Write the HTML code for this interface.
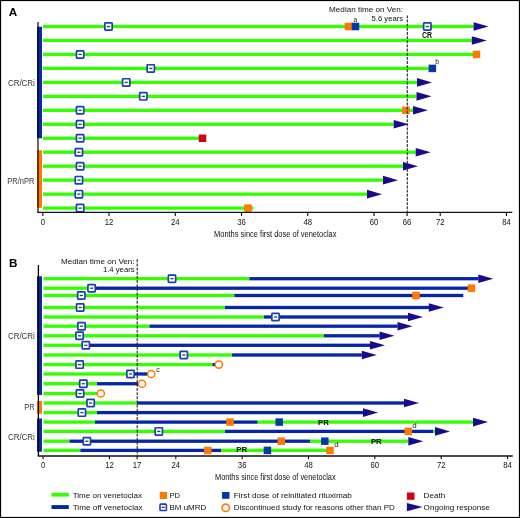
<!DOCTYPE html>
<html><head><meta charset="utf-8"><title>Swimmer plot</title>
<style>
html,body{margin:0;padding:0;background:#fff;}
body{width:520px;height:518px;overflow:hidden;}
svg{display:block;will-change:transform;font-family:"Liberation Sans", sans-serif;}
</style></head><body>
<svg width="520" height="518" viewBox="0 0 520 518">
<rect x="0" y="0" width="520" height="518" fill="#fff"/>
<rect x="37.00" y="26.70" width="5.00" height="111.60" fill="#0c29a6" />
<rect x="37.00" y="150.30" width="5.00" height="57.50" fill="#ff7a00" />
<rect x="43.00" y="24.85" width="430.60" height="3.30" fill="#33ff00" />
<rect x="43.00" y="38.82" width="428.80" height="3.30" fill="#33ff00" />
<rect x="43.00" y="52.79" width="430.00" height="3.30" fill="#33ff00" />
<rect x="43.00" y="66.76" width="385.70" height="3.30" fill="#33ff00" />
<rect x="43.00" y="80.73" width="374.00" height="3.30" fill="#33ff00" />
<rect x="43.00" y="94.70" width="373.50" height="3.30" fill="#33ff00" />
<rect x="43.00" y="108.67" width="370.00" height="3.30" fill="#33ff00" />
<rect x="43.00" y="122.64" width="350.70" height="3.30" fill="#33ff00" />
<rect x="43.00" y="136.61" width="156.00" height="3.30" fill="#33ff00" />
<rect x="43.00" y="150.58" width="372.70" height="3.30" fill="#33ff00" />
<rect x="43.00" y="164.55" width="360.00" height="3.30" fill="#33ff00" />
<rect x="43.00" y="178.52" width="340.00" height="3.30" fill="#33ff00" />
<rect x="43.00" y="192.49" width="324.00" height="3.30" fill="#33ff00" />
<rect x="43.00" y="206.46" width="210.40" height="3.30" fill="#33ff00" />
<polygon points="473.60,22.20 488.60,26.50 473.60,30.80" fill="#1a0a8c"/>
<polygon points="471.80,36.17 486.80,40.47 471.80,44.77" fill="#1a0a8c"/>
<polygon points="417.00,78.08 432.00,82.38 417.00,86.68" fill="#1a0a8c"/>
<polygon points="416.50,92.05 431.50,96.35 416.50,100.65" fill="#1a0a8c"/>
<polygon points="413.00,106.02 428.00,110.32 413.00,114.62" fill="#1a0a8c"/>
<polygon points="393.70,119.99 408.70,124.29 393.70,128.59" fill="#1a0a8c"/>
<polygon points="415.70,147.93 430.70,152.23 415.70,156.53" fill="#1a0a8c"/>
<polygon points="403.00,161.90 418.00,166.20 403.00,170.50" fill="#1a0a8c"/>
<polygon points="383.00,175.87 398.00,180.17 383.00,184.47" fill="#1a0a8c"/>
<polygon points="367.00,189.84 382.00,194.14 367.00,198.44" fill="#1a0a8c"/>
<rect x="344.65" y="22.75" width="7.50" height="7.50" fill="#ff7800" />
<rect x="472.75" y="50.69" width="7.50" height="7.50" fill="#ff7800" />
<rect x="402.15" y="106.57" width="7.50" height="7.50" fill="#ff7800" />
<rect x="244.25" y="204.36" width="7.50" height="7.50" fill="#ff7800" />
<rect x="351.75" y="22.75" width="7.50" height="7.50" fill="#0836aa" />
<rect x="428.55" y="64.66" width="7.50" height="7.50" fill="#0836aa" />
<rect x="198.75" y="134.51" width="7.50" height="7.50" fill="#d00016" />
<rect x="104.85" y="22.85" width="7.30" height="7.30" rx="0.6" fill="#fff" stroke="#1c40ad" stroke-width="1.7"/>
<rect x="106.90" y="25.90" width="3.20" height="1.20" fill="#12309a" />
<rect x="423.65" y="22.85" width="7.30" height="7.30" rx="0.6" fill="#fff" stroke="#1c40ad" stroke-width="1.7"/>
<rect x="425.70" y="25.90" width="3.20" height="1.20" fill="#12309a" />
<rect x="76.45" y="50.79" width="7.30" height="7.30" rx="0.6" fill="#fff" stroke="#1c40ad" stroke-width="1.7"/>
<rect x="78.50" y="53.84" width="3.20" height="1.20" fill="#12309a" />
<rect x="147.15" y="64.76" width="7.30" height="7.30" rx="0.6" fill="#fff" stroke="#1c40ad" stroke-width="1.7"/>
<rect x="149.20" y="67.81" width="3.20" height="1.20" fill="#12309a" />
<rect x="122.55" y="78.73" width="7.30" height="7.30" rx="0.6" fill="#fff" stroke="#1c40ad" stroke-width="1.7"/>
<rect x="124.60" y="81.78" width="3.20" height="1.20" fill="#12309a" />
<rect x="139.65" y="92.70" width="7.30" height="7.30" rx="0.6" fill="#fff" stroke="#1c40ad" stroke-width="1.7"/>
<rect x="141.70" y="95.75" width="3.20" height="1.20" fill="#12309a" />
<rect x="76.45" y="106.67" width="7.30" height="7.30" rx="0.6" fill="#fff" stroke="#1c40ad" stroke-width="1.7"/>
<rect x="78.50" y="109.72" width="3.20" height="1.20" fill="#12309a" />
<rect x="76.45" y="120.64" width="7.30" height="7.30" rx="0.6" fill="#fff" stroke="#1c40ad" stroke-width="1.7"/>
<rect x="78.50" y="123.69" width="3.20" height="1.20" fill="#12309a" />
<rect x="76.45" y="134.61" width="7.30" height="7.30" rx="0.6" fill="#fff" stroke="#1c40ad" stroke-width="1.7"/>
<rect x="78.50" y="137.66" width="3.20" height="1.20" fill="#12309a" />
<rect x="75.25" y="148.58" width="7.30" height="7.30" rx="0.6" fill="#fff" stroke="#1c40ad" stroke-width="1.7"/>
<rect x="77.30" y="151.63" width="3.20" height="1.20" fill="#12309a" />
<rect x="76.45" y="162.55" width="7.30" height="7.30" rx="0.6" fill="#fff" stroke="#1c40ad" stroke-width="1.7"/>
<rect x="78.50" y="165.60" width="3.20" height="1.20" fill="#12309a" />
<rect x="75.25" y="176.52" width="7.30" height="7.30" rx="0.6" fill="#fff" stroke="#1c40ad" stroke-width="1.7"/>
<rect x="77.30" y="179.57" width="3.20" height="1.20" fill="#12309a" />
<rect x="75.25" y="190.49" width="7.30" height="7.30" rx="0.6" fill="#fff" stroke="#1c40ad" stroke-width="1.7"/>
<rect x="77.30" y="193.54" width="3.20" height="1.20" fill="#12309a" />
<rect x="76.45" y="204.46" width="7.30" height="7.30" rx="0.6" fill="#fff" stroke="#1c40ad" stroke-width="1.7"/>
<rect x="78.50" y="207.51" width="3.20" height="1.20" fill="#12309a" />
<text x="355.40" y="21.60" font-size="6.5" text-anchor="middle" font-weight="normal" fill="#111" >a</text>
<text x="437.10" y="63.90" font-size="7.0" text-anchor="middle" font-weight="normal" fill="#111" >b</text>
<text x="427.10" y="38.10" font-size="8.4" text-anchor="middle" font-weight="bold" fill="#111" textLength="10.2" lengthAdjust="spacingAndGlyphs" >CR</text>
<line x1="407.3" y1="15.4" x2="407.3" y2="212" stroke="#222" stroke-width="1.1" stroke-dasharray="2.9,1.25"/>
<text x="403.10" y="12.40" font-size="7.8" text-anchor="end" font-weight="normal" fill="#111" textLength="74" lengthAdjust="spacingAndGlyphs" >Median time on Ven:</text>
<text x="403.10" y="20.80" font-size="7.8" text-anchor="end" font-weight="normal" fill="#111" textLength="31.6" lengthAdjust="spacingAndGlyphs" >5.6 years</text>
<line x1="38" y1="22" x2="38" y2="212.3" stroke="#000" stroke-opacity="0.65" stroke-width="1.8"/>
<line x1="37.1" y1="212.4" x2="512.3" y2="212.4" stroke="#111" stroke-width="1.3"/>
<line x1="42.80" y1="212.4" x2="42.80" y2="216.0" stroke="#111" stroke-width="1.15"/>
<text x="42.80" y="224.90" font-size="8.3" text-anchor="middle" font-weight="normal" fill="#111" textLength="4.3" lengthAdjust="spacingAndGlyphs" >0</text>
<line x1="109.04" y1="212.4" x2="109.04" y2="216.0" stroke="#111" stroke-width="1.15"/>
<text x="109.04" y="224.90" font-size="8.3" text-anchor="middle" font-weight="normal" fill="#111" textLength="8.6" lengthAdjust="spacingAndGlyphs" >12</text>
<line x1="175.28" y1="212.4" x2="175.28" y2="216.0" stroke="#111" stroke-width="1.15"/>
<text x="175.28" y="224.90" font-size="8.3" text-anchor="middle" font-weight="normal" fill="#111" textLength="8.6" lengthAdjust="spacingAndGlyphs" >24</text>
<line x1="241.52" y1="212.4" x2="241.52" y2="216.0" stroke="#111" stroke-width="1.15"/>
<text x="241.52" y="224.90" font-size="8.3" text-anchor="middle" font-weight="normal" fill="#111" textLength="8.6" lengthAdjust="spacingAndGlyphs" >36</text>
<line x1="307.76" y1="212.4" x2="307.76" y2="216.0" stroke="#111" stroke-width="1.15"/>
<text x="307.76" y="224.90" font-size="8.3" text-anchor="middle" font-weight="normal" fill="#111" textLength="8.6" lengthAdjust="spacingAndGlyphs" >48</text>
<line x1="374.00" y1="212.4" x2="374.00" y2="216.0" stroke="#111" stroke-width="1.15"/>
<text x="374.00" y="224.90" font-size="8.3" text-anchor="middle" font-weight="normal" fill="#111" textLength="8.6" lengthAdjust="spacingAndGlyphs" >60</text>
<line x1="407.12" y1="212.4" x2="407.12" y2="216.0" stroke="#111" stroke-width="1.15"/>
<text x="407.12" y="224.90" font-size="8.3" text-anchor="middle" font-weight="normal" fill="#111" textLength="8.6" lengthAdjust="spacingAndGlyphs" >66</text>
<line x1="440.24" y1="212.4" x2="440.24" y2="216.0" stroke="#111" stroke-width="1.15"/>
<text x="440.24" y="224.90" font-size="8.3" text-anchor="middle" font-weight="normal" fill="#111" textLength="8.6" lengthAdjust="spacingAndGlyphs" >72</text>
<line x1="506.48" y1="212.4" x2="506.48" y2="216.0" stroke="#111" stroke-width="1.15"/>
<text x="506.48" y="224.90" font-size="8.3" text-anchor="middle" font-weight="normal" fill="#111" textLength="8.6" lengthAdjust="spacingAndGlyphs" >84</text>
<text x="214.00" y="236.70" font-size="9.3" text-anchor="start" font-weight="normal" fill="#111" textLength="122.5" lengthAdjust="spacingAndGlyphs" >Months since first dose of venetoclax</text>
<text x="8.70" y="15.70" font-size="11.7" text-anchor="start" font-weight="bold" fill="#000" >A</text>
<text x="34.90" y="86.40" font-size="8.6" text-anchor="end" font-weight="normal" fill="#333" textLength="27.0" lengthAdjust="spacingAndGlyphs" >CR/CRi</text>
<text x="34.30" y="184.00" font-size="8.6" text-anchor="end" font-weight="normal" fill="#333" textLength="27.0" lengthAdjust="spacingAndGlyphs" >PR/nPR</text>
<rect x="37.00" y="276.30" width="5.00" height="118.70" fill="#0c29a6" />
<rect x="37.00" y="401.00" width="5.00" height="12.70" fill="#ff7a00" />
<rect x="37.00" y="418.50" width="5.00" height="33.20" fill="#0c29a6" />
<rect x="43.50" y="277.05" width="205.80" height="3.30" fill="#33ff00" />
<rect x="249.30" y="277.05" width="229.20" height="3.30" fill="#0626a6" />
<rect x="43.50" y="286.55" width="46.50" height="3.30" fill="#33ff00" />
<rect x="90.00" y="286.55" width="378.00" height="3.30" fill="#0626a6" />
<rect x="43.50" y="293.85" width="190.80" height="3.30" fill="#33ff00" />
<rect x="234.30" y="293.85" width="229.00" height="3.30" fill="#0626a6" />
<rect x="43.50" y="305.85" width="181.50" height="3.30" fill="#33ff00" />
<rect x="225.00" y="305.85" width="204.00" height="3.30" fill="#0626a6" />
<rect x="43.50" y="315.35" width="220.50" height="3.30" fill="#33ff00" />
<rect x="264.00" y="315.35" width="144.20" height="3.30" fill="#0626a6" />
<rect x="43.50" y="324.55" width="106.00" height="3.30" fill="#33ff00" />
<rect x="149.50" y="324.55" width="248.10" height="3.30" fill="#0626a6" />
<rect x="43.50" y="334.15" width="280.30" height="3.30" fill="#33ff00" />
<rect x="323.80" y="334.15" width="55.80" height="3.30" fill="#0626a6" />
<rect x="43.50" y="343.65" width="42.50" height="3.30" fill="#33ff00" />
<rect x="86.00" y="343.65" width="284.20" height="3.30" fill="#0626a6" />
<rect x="43.50" y="353.35" width="188.50" height="3.30" fill="#33ff00" />
<rect x="232.00" y="353.35" width="129.80" height="3.30" fill="#0626a6" />
<rect x="43.50" y="362.95" width="169.00" height="3.30" fill="#33ff00" />
<rect x="212.50" y="362.95" width="3.50" height="3.30" fill="#0626a6" />
<rect x="43.50" y="372.35" width="86.50" height="3.30" fill="#33ff00" />
<rect x="130.00" y="372.35" width="18.00" height="3.30" fill="#0626a6" />
<rect x="43.50" y="382.10" width="53.50" height="3.30" fill="#33ff00" />
<rect x="97.00" y="382.10" width="42.00" height="3.30" fill="#0626a6" />
<rect x="43.50" y="391.85" width="54.00" height="3.30" fill="#33ff00" />
<rect x="43.50" y="401.35" width="93.50" height="3.30" fill="#33ff00" />
<rect x="137.00" y="401.35" width="267.20" height="3.30" fill="#0626a6" />
<rect x="43.50" y="410.95" width="53.50" height="3.30" fill="#33ff00" />
<rect x="97.00" y="410.95" width="266.00" height="3.30" fill="#0626a6" />
<rect x="43.50" y="420.45" width="51.50" height="3.30" fill="#33ff00" />
<rect x="95.00" y="420.45" width="162.70" height="3.30" fill="#0626a6" />
<rect x="257.70" y="420.45" width="215.30" height="3.30" fill="#33ff00" />
<rect x="43.50" y="429.75" width="181.50" height="3.30" fill="#33ff00" />
<rect x="225.00" y="429.75" width="208.30" height="3.30" fill="#0626a6" />
<rect x="433.30" y="429.75" width="1.90" height="3.30" fill="#33ff00" />
<rect x="43.50" y="439.55" width="26.00" height="3.30" fill="#33ff00" />
<rect x="69.50" y="439.55" width="240.50" height="3.30" fill="#0626a6" />
<rect x="310.00" y="439.55" width="98.30" height="3.30" fill="#33ff00" />
<rect x="43.50" y="448.75" width="36.90" height="3.30" fill="#33ff00" />
<rect x="80.40" y="448.75" width="141.00" height="3.30" fill="#0626a6" />
<rect x="221.40" y="448.75" width="108.60" height="3.30" fill="#33ff00" />
<polygon points="478.30,274.40 493.30,278.70 478.30,283.00" fill="#1a0a8c"/>
<polygon points="428.80,303.20 443.80,307.50 428.80,311.80" fill="#1a0a8c"/>
<polygon points="408.00,312.70 423.00,317.00 408.00,321.30" fill="#1a0a8c"/>
<polygon points="397.50,321.90 412.50,326.20 397.50,330.50" fill="#1a0a8c"/>
<polygon points="379.50,331.50 394.50,335.80 379.50,340.10" fill="#1a0a8c"/>
<polygon points="370.00,341.00 385.00,345.30 370.00,349.60" fill="#1a0a8c"/>
<polygon points="361.80,350.70 376.80,355.00 361.80,359.30" fill="#1a0a8c"/>
<polygon points="404.00,398.70 419.00,403.00 404.00,407.30" fill="#1a0a8c"/>
<polygon points="363.00,408.30 378.00,412.60 363.00,416.90" fill="#1a0a8c"/>
<polygon points="473.00,417.80 488.00,422.10 473.00,426.40" fill="#1a0a8c"/>
<polygon points="435.00,427.10 450.00,431.40 435.00,435.70" fill="#1a0a8c"/>
<polygon points="408.30,436.90 423.30,441.20 408.30,445.50" fill="#1a0a8c"/>
<rect x="467.65" y="284.45" width="7.50" height="7.50" fill="#ff7800" />
<rect x="412.25" y="291.75" width="7.50" height="7.50" fill="#ff7800" />
<rect x="226.25" y="418.35" width="7.50" height="7.50" fill="#ff7800" />
<rect x="404.55" y="427.65" width="7.50" height="7.50" fill="#ff7800" />
<rect x="277.55" y="437.45" width="7.50" height="7.50" fill="#ff7800" />
<rect x="204.05" y="446.65" width="7.50" height="7.50" fill="#ff7800" />
<rect x="326.25" y="446.65" width="7.50" height="7.50" fill="#ff7800" />
<rect x="275.45" y="418.35" width="7.50" height="7.50" fill="#0836aa" />
<rect x="321.05" y="437.45" width="7.50" height="7.50" fill="#0836aa" />
<rect x="263.65" y="446.65" width="7.50" height="7.50" fill="#0836aa" />
<circle cx="218.80" cy="364.60" r="3.6" fill="#fff" stroke="#ff7a00" stroke-width="1.5"/>
<circle cx="151.20" cy="374.00" r="3.6" fill="#fff" stroke="#ff7a00" stroke-width="1.5"/>
<circle cx="142.00" cy="383.75" r="3.6" fill="#fff" stroke="#ff7a00" stroke-width="1.5"/>
<circle cx="100.80" cy="393.50" r="3.6" fill="#fff" stroke="#ff7a00" stroke-width="1.5"/>
<rect x="168.35" y="275.05" width="7.30" height="7.30" rx="0.6" fill="#fff" stroke="#1c40ad" stroke-width="1.7"/>
<rect x="170.40" y="278.10" width="3.20" height="1.20" fill="#12309a" />
<rect x="87.95" y="284.55" width="7.30" height="7.30" rx="0.6" fill="#fff" stroke="#1c40ad" stroke-width="1.7"/>
<rect x="90.00" y="287.60" width="3.20" height="1.20" fill="#12309a" />
<rect x="77.65" y="291.85" width="7.30" height="7.30" rx="0.6" fill="#fff" stroke="#1c40ad" stroke-width="1.7"/>
<rect x="79.70" y="294.90" width="3.20" height="1.20" fill="#12309a" />
<rect x="76.55" y="303.85" width="7.30" height="7.30" rx="0.6" fill="#fff" stroke="#1c40ad" stroke-width="1.7"/>
<rect x="78.60" y="306.90" width="3.20" height="1.20" fill="#12309a" />
<rect x="271.85" y="313.35" width="7.30" height="7.30" rx="0.6" fill="#fff" stroke="#1c40ad" stroke-width="1.7"/>
<rect x="273.90" y="316.40" width="3.20" height="1.20" fill="#12309a" />
<rect x="77.85" y="322.55" width="7.30" height="7.30" rx="0.6" fill="#fff" stroke="#1c40ad" stroke-width="1.7"/>
<rect x="79.90" y="325.60" width="3.20" height="1.20" fill="#12309a" />
<rect x="75.95" y="332.15" width="7.30" height="7.30" rx="0.6" fill="#fff" stroke="#1c40ad" stroke-width="1.7"/>
<rect x="78.00" y="335.20" width="3.20" height="1.20" fill="#12309a" />
<rect x="82.15" y="341.65" width="7.30" height="7.30" rx="0.6" fill="#fff" stroke="#1c40ad" stroke-width="1.7"/>
<rect x="84.20" y="344.70" width="3.20" height="1.20" fill="#12309a" />
<rect x="180.15" y="351.35" width="7.30" height="7.30" rx="0.6" fill="#fff" stroke="#1c40ad" stroke-width="1.7"/>
<rect x="182.20" y="354.40" width="3.20" height="1.20" fill="#12309a" />
<rect x="75.95" y="360.95" width="7.30" height="7.30" rx="0.6" fill="#fff" stroke="#1c40ad" stroke-width="1.7"/>
<rect x="78.00" y="364.00" width="3.20" height="1.20" fill="#12309a" />
<rect x="126.85" y="370.35" width="7.30" height="7.30" rx="0.6" fill="#fff" stroke="#1c40ad" stroke-width="1.7"/>
<rect x="128.90" y="373.40" width="3.20" height="1.20" fill="#12309a" />
<rect x="79.65" y="380.10" width="7.30" height="7.30" rx="0.6" fill="#fff" stroke="#1c40ad" stroke-width="1.7"/>
<rect x="81.70" y="383.15" width="3.20" height="1.20" fill="#12309a" />
<rect x="76.35" y="389.85" width="7.30" height="7.30" rx="0.6" fill="#fff" stroke="#1c40ad" stroke-width="1.7"/>
<rect x="78.40" y="392.90" width="3.20" height="1.20" fill="#12309a" />
<rect x="86.95" y="399.35" width="7.30" height="7.30" rx="0.6" fill="#fff" stroke="#1c40ad" stroke-width="1.7"/>
<rect x="89.00" y="402.40" width="3.20" height="1.20" fill="#12309a" />
<rect x="78.25" y="408.95" width="7.30" height="7.30" rx="0.6" fill="#fff" stroke="#1c40ad" stroke-width="1.7"/>
<rect x="80.30" y="412.00" width="3.20" height="1.20" fill="#12309a" />
<rect x="155.15" y="427.75" width="7.30" height="7.30" rx="0.6" fill="#fff" stroke="#1c40ad" stroke-width="1.7"/>
<rect x="157.20" y="430.80" width="3.20" height="1.20" fill="#12309a" />
<rect x="83.25" y="437.55" width="7.30" height="7.30" rx="0.6" fill="#fff" stroke="#1c40ad" stroke-width="1.7"/>
<rect x="85.30" y="440.60" width="3.20" height="1.20" fill="#12309a" />
<text x="158.00" y="371.80" font-size="7.0" text-anchor="middle" font-weight="normal" fill="#111" >c</text>
<text x="414.60" y="427.50" font-size="8.0" text-anchor="middle" font-weight="normal" fill="#111" >d</text>
<text x="336.40" y="447.10" font-size="8.0" text-anchor="middle" font-weight="normal" fill="#111" >d</text>
<text x="323.40" y="425.00" font-size="7.8" text-anchor="middle" font-weight="bold" fill="#000" >PR</text>
<text x="376.30" y="443.80" font-size="7.8" text-anchor="middle" font-weight="bold" fill="#000" >PR</text>
<text x="241.70" y="452.30" font-size="7.8" text-anchor="middle" font-weight="bold" fill="#000" >PR</text>
<line x1="137.2" y1="258" x2="137.2" y2="455.5" stroke="#222" stroke-width="1.1" stroke-dasharray="2.9,1.25" stroke-dashoffset="2.8"/>
<text x="134.60" y="263.80" font-size="7.8" text-anchor="end" font-weight="normal" fill="#111" textLength="73.6" lengthAdjust="spacingAndGlyphs" >Median time on Ven:</text>
<text x="134.60" y="272.20" font-size="7.8" text-anchor="end" font-weight="normal" fill="#111" textLength="31.7" lengthAdjust="spacingAndGlyphs" >1.4 years</text>
<line x1="38.4" y1="265" x2="38.4" y2="456" stroke="#000" stroke-width="1.3"/>
<line x1="37.8" y1="456" x2="512.8" y2="456" stroke="#111" stroke-width="1.4"/>
<line x1="43.10" y1="456" x2="43.10" y2="459.2" stroke="#111" stroke-width="1.1"/>
<text x="43.10" y="467.90" font-size="8.3" text-anchor="middle" font-weight="normal" fill="#111" textLength="4.3" lengthAdjust="spacingAndGlyphs" >0</text>
<line x1="109.45" y1="456" x2="109.45" y2="459.2" stroke="#111" stroke-width="1.1"/>
<text x="109.45" y="467.90" font-size="8.3" text-anchor="middle" font-weight="normal" fill="#111" textLength="8.6" lengthAdjust="spacingAndGlyphs" >12</text>
<line x1="137.09" y1="456" x2="137.09" y2="459.2" stroke="#111" stroke-width="1.1"/>
<text x="137.09" y="467.90" font-size="8.3" text-anchor="middle" font-weight="normal" fill="#111" textLength="8.6" lengthAdjust="spacingAndGlyphs" >17</text>
<line x1="175.80" y1="456" x2="175.80" y2="459.2" stroke="#111" stroke-width="1.1"/>
<text x="175.80" y="467.90" font-size="8.3" text-anchor="middle" font-weight="normal" fill="#111" textLength="8.6" lengthAdjust="spacingAndGlyphs" >24</text>
<line x1="242.14" y1="456" x2="242.14" y2="459.2" stroke="#111" stroke-width="1.1"/>
<text x="242.14" y="467.90" font-size="8.3" text-anchor="middle" font-weight="normal" fill="#111" textLength="8.6" lengthAdjust="spacingAndGlyphs" >36</text>
<line x1="308.49" y1="456" x2="308.49" y2="459.2" stroke="#111" stroke-width="1.1"/>
<text x="308.49" y="467.90" font-size="8.3" text-anchor="middle" font-weight="normal" fill="#111" textLength="8.6" lengthAdjust="spacingAndGlyphs" >48</text>
<line x1="374.84" y1="456" x2="374.84" y2="459.2" stroke="#111" stroke-width="1.1"/>
<text x="374.84" y="467.90" font-size="8.3" text-anchor="middle" font-weight="normal" fill="#111" textLength="8.6" lengthAdjust="spacingAndGlyphs" >60</text>
<line x1="441.19" y1="456" x2="441.19" y2="459.2" stroke="#111" stroke-width="1.1"/>
<text x="441.19" y="467.90" font-size="8.3" text-anchor="middle" font-weight="normal" fill="#111" textLength="8.6" lengthAdjust="spacingAndGlyphs" >72</text>
<line x1="507.54" y1="456" x2="507.54" y2="459.2" stroke="#111" stroke-width="1.1"/>
<text x="507.54" y="467.90" font-size="8.3" text-anchor="middle" font-weight="normal" fill="#111" textLength="8.6" lengthAdjust="spacingAndGlyphs" >84</text>
<text x="215.00" y="480.20" font-size="9.3" text-anchor="start" font-weight="normal" fill="#111" textLength="120.6" lengthAdjust="spacingAndGlyphs" >Months since first dose of venetoclax</text>
<text x="8.90" y="266.70" font-size="11.7" text-anchor="start" font-weight="bold" fill="#000" >B</text>
<text x="34.90" y="338.80" font-size="8.6" text-anchor="end" font-weight="normal" fill="#333" textLength="27.0" lengthAdjust="spacingAndGlyphs" >CR/CRi</text>
<text x="34.60" y="409.70" font-size="8.6" text-anchor="end" font-weight="normal" fill="#333" textLength="10.4" lengthAdjust="spacingAndGlyphs" >PR</text>
<text x="34.90" y="439.60" font-size="8.6" text-anchor="end" font-weight="normal" fill="#333" textLength="27.0" lengthAdjust="spacingAndGlyphs" >CR/CRi</text>
<rect x="51.50" y="492.80" width="17.30" height="3.80" fill="#33ff00" />
<rect x="51.50" y="505.10" width="17.30" height="3.90" fill="#0626a6" />
<text x="72.70" y="497.90" font-size="7.9" text-anchor="start" font-weight="normal" fill="#111" textLength="69.3" lengthAdjust="spacingAndGlyphs" >Time on venetoclax</text>
<text x="72.70" y="509.80" font-size="7.9" text-anchor="start" font-weight="normal" fill="#111" textLength="69.8" lengthAdjust="spacingAndGlyphs" >Time off venetoclax</text>
<rect x="159.70" y="491.90" width="7.40" height="7.10" fill="#ff7800" />
<text x="169.50" y="497.90" font-size="7.9" text-anchor="start" font-weight="normal" fill="#111" textLength="10.5" lengthAdjust="spacingAndGlyphs" >PD</text>
<rect x="160.00" y="504.10" width="6.40" height="6.40" rx="0.8" fill="#fff" stroke="#1c40ad" stroke-width="1.6"/>
<rect x="161.60" y="506.70" width="3.20" height="1.20" fill="#12309a" />
<text x="169.50" y="509.80" font-size="7.9" text-anchor="start" font-weight="normal" fill="#111" textLength="36.8" lengthAdjust="spacingAndGlyphs" >BM uMRD</text>
<rect x="222.00" y="492.00" width="7.50" height="6.80" fill="#0836aa" />
<text x="233.80" y="497.90" font-size="7.9" text-anchor="start" font-weight="normal" fill="#111" textLength="118.0" lengthAdjust="spacingAndGlyphs" >First dose of reinitiated rituximab</text>
<circle cx="225.8" cy="507.8" r="3.7" fill="#fff" stroke="#ff7a00" stroke-width="1.6"/>
<text x="233.80" y="509.80" font-size="7.9" text-anchor="start" font-weight="normal" fill="#111" textLength="161.0" lengthAdjust="spacingAndGlyphs" >Discontinued study for reasons other than PD</text>
<rect x="406.90" y="492.50" width="7.60" height="7.30" fill="#d00016" />
<text x="423.60" y="497.90" font-size="7.9" text-anchor="start" font-weight="normal" fill="#111" textLength="21.6" lengthAdjust="spacingAndGlyphs" >Death</text>
<polygon points="406.9,502.9 422.5,507.1 406.9,511.3" fill="#1a0a8c"/>
<text x="423.60" y="509.80" font-size="7.9" text-anchor="start" font-weight="normal" fill="#111" textLength="66.3" lengthAdjust="spacingAndGlyphs" >Ongoing response</text>
<rect x="0.5" y="0.5" width="519" height="517" fill="none" stroke="#000" stroke-width="1.2"/>
</svg>
</body></html>
